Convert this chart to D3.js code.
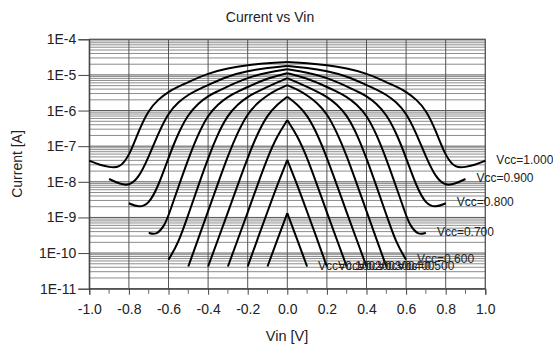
<!DOCTYPE html>
<html>
<head>
<meta charset="utf-8">
<script src="https://cdn.jsdelivr.net/npm/d3@7"></script>
<style>
  body { margin: 0; background: #fff; }
  text { font-family: "Liberation Sans", Arial, sans-serif; fill: #222; }
</style>
</head>
<body>
<svg id="chart" width="553" height="347"></svg>
<script>
// Vin [V] / Current [A] per Vcc curve
const vin1000 = [-1.0, -0.95, -0.9, -0.85, -0.8, -0.75, -0.7, -0.65, -0.6, -0.55, -0.5, -0.4, -0.3, -0.2, -0.1, 0, 0.1, 0.2, 0.3, 0.4, 0.5, 0.55, 0.6, 0.65, 0.7, 0.75, 0.8, 0.85, 0.9, 0.95, 1.0];
const cur1000 = [3.9e-8, 3.0e-8, 2.6e-8, 2.4e-8, 5.0e-8, 2.8e-7, 1.05e-6, 2.1e-6, 3.4e-6, 4.7e-6, 6.3e-6, 1.12e-5, 1.55e-5, 1.9e-5, 2.15e-5, 2.3e-5, 2.15e-5, 1.9e-5, 1.55e-5, 1.12e-5, 6.3e-6, 4.7e-6, 3.4e-6, 2.1e-6, 1.05e-6, 2.8e-7, 5.0e-8, 2.4e-8, 2.6e-8, 3.0e-8, 3.9e-8];

const vin900 = [-0.9, -0.85, -0.8, -0.75, -0.7, -0.65, -0.6, -0.55, -0.5, -0.45, -0.4, -0.3, -0.2, -0.1, 0, 0.1, 0.2, 0.3, 0.4, 0.45, 0.5, 0.55, 0.6, 0.65, 0.7, 0.75, 0.8, 0.85, 0.9];
const cur900 = [1.2e-8, 8.9e-9, 7.6e-9, 1.3e-8, 5.0e-8, 2.4e-7, 8.7e-7, 1.74e-6, 2.8e-6, 3.9e-6, 5.2e-6, 9.3e-6, 1.29e-5, 1.58e-5, 1.78e-5, 1.58e-5, 1.29e-5, 9.3e-6, 5.2e-6, 3.9e-6, 2.8e-6, 1.74e-6, 8.7e-7, 2.4e-7, 5.0e-8, 1.3e-8, 7.6e-9, 8.9e-9, 1.2e-8];

const vin800 = [-0.8, -0.75, -0.7, -0.65, -0.6, -0.55, -0.5, -0.45, -0.4, -0.35, -0.3, -0.2, -0.1, 0, 0.1, 0.2, 0.3, 0.35, 0.4, 0.45, 0.5, 0.55, 0.6, 0.65, 0.7, 0.75, 0.8];
const cur800 = [2.5e-9, 1.9e-9, 2.3e-9, 7.9e-9, 4.8e-8, 2.4e-7, 7.9e-7, 1.58e-6, 2.6e-6, 3.5e-6, 4.8e-6, 8.5e-6, 1.17e-5, 1.45e-5, 1.17e-5, 8.5e-6, 4.8e-6, 3.5e-6, 2.6e-6, 1.58e-6, 7.9e-7, 2.4e-7, 4.8e-8, 7.9e-9, 2.3e-9, 1.9e-9, 2.5e-9];

const vin700 = [-0.7, -0.66, -0.62, -0.6, -0.55, -0.5, -0.45, -0.4, -0.35, -0.3, -0.25, -0.2, -0.1, 0, 0.1, 0.2, 0.25, 0.3, 0.35, 0.4, 0.45, 0.5, 0.55, 0.6, 0.62, 0.66, 0.7];
const cur700 = [3.7e-10, 3.2e-10, 6.0e-10, 1.12e-9, 7.2e-9, 4.4e-8, 2.2e-7, 7.6e-7, 1.51e-6, 2.45e-6, 3.4e-6, 4.6e-6, 8.1e-6, 1.12e-5, 8.1e-6, 4.6e-6, 3.4e-6, 2.45e-6, 1.51e-6, 7.6e-7, 2.2e-7, 4.4e-8, 7.2e-9, 1.12e-9, 6.0e-10, 3.2e-10, 3.7e-10];

const vin600 = [-0.6, -0.55, -0.5, -0.45, -0.4, -0.35, -0.3, -0.25, -0.2, -0.15, -0.1, -0.05, 0, 0.05, 0.1, 0.15, 0.2, 0.25, 0.3, 0.35, 0.4, 0.45, 0.5, 0.55, 0.6];
const cur600 = [6.5e-11, 1.9e-10, 1.2e-9, 7.6e-9, 4.6e-8, 2.3e-7, 7.6e-7, 1.51e-6, 2.45e-6, 3.4e-6, 4.6e-6, 6.2e-6, 8.1e-6, 6.2e-6, 4.6e-6, 3.4e-6, 2.45e-6, 1.51e-6, 7.6e-7, 2.3e-7, 4.6e-8, 7.6e-9, 1.2e-9, 1.9e-10, 6.5e-11];

const vin500 = [-0.5, -0.45, -0.4, -0.35, -0.3, -0.25, -0.2, -0.15, -0.1, -0.05, 0, 0.05, 0.1, 0.15, 0.2, 0.25, 0.3, 0.35, 0.4, 0.45, 0.5];
const cur500 = [4.2e-11, 2.5e-10, 1.5e-9, 9.1e-9, 5.4e-8, 2.5e-7, 8.3e-7, 1.66e-6, 2.7e-6, 3.9e-6, 5.2e-6, 3.9e-6, 2.7e-6, 1.66e-6, 8.3e-7, 2.5e-7, 5.4e-8, 9.1e-9, 1.5e-9, 2.5e-10, 4.2e-11];

const vin400 = [-0.4, -0.35, -0.3, -0.25, -0.2, -0.15, -0.1, -0.05, 0, 0.05, 0.1, 0.15, 0.2, 0.25, 0.3, 0.35, 0.4];
const cur400 = [4.2e-11, 2.4e-10, 1.38e-9, 8.3e-9, 4.8e-8, 2.3e-7, 7.6e-7, 1.51e-6, 2.45e-6, 1.51e-6, 7.6e-7, 2.3e-7, 4.8e-8, 8.3e-9, 1.38e-9, 2.4e-10, 4.2e-11];

const vin300 = [-0.3, -0.25, -0.2, -0.15, -0.1, -0.05, 0, 0.05, 0.1, 0.15, 0.2, 0.25, 0.3];
const cur300 = [4.2e-11, 2.4e-10, 1.38e-9, 8.3e-9, 4.8e-8, 2.0e-7, 5.4e-7, 2.0e-7, 4.8e-8, 8.3e-9, 1.38e-9, 2.4e-10, 4.2e-11];

const vin200 = [-0.2, -0.15, -0.1, -0.05, 0, 0.05, 0.1, 0.15, 0.2];
const cur200 = [4.2e-11, 2.5e-10, 1.45e-9, 8.3e-9, 4.1e-8, 8.3e-9, 1.45e-9, 2.5e-10, 4.2e-11];

const vin100 = [-0.1, -0.05, 0, 0.05, 0.1];
const cur100 = [4.2e-11, 2.4e-10, 1.32e-9, 2.4e-10, 4.2e-11];

const vccLabels = ['Vcc=1.000', 'Vcc=0.900', 'Vcc=0.800', 'Vcc=0.700', 'Vcc=0.600', 'Vcc=0.500', 'Vcc=0.400', 'Vcc=0.300', 'Vcc=0.200', 'Vcc=0.100'];
const vinSets = [vin1000, vin900, vin800, vin700, vin600, vin500, vin400, vin300, vin200, vin100];
const curSets = [cur1000, cur900, cur800, cur700, cur600, cur500, cur400, cur300, cur200, cur100];

// axis ticks
const xMajor = [-1.0, -0.8, -0.6, -0.4, -0.2, 0.0, 0.2, 0.4, 0.6, 0.8, 1.0];
const xMinor = [-0.9, -0.7, -0.5, -0.3, -0.1, 0.1, 0.3, 0.5, 0.7, 0.9];
const decades = [-11, -10, -9, -8, -7, -6, -5, -4];
const minorSteps = [2, 3, 4, 5, 6, 7, 8, 9];

const series = vccLabels.map((label, i) => ({
  label,
  points: vinSets[i].map((v, j) => ({ vin: v, current: curSets[i][j] }))
}));

const svg = d3.select('#chart');

const x = d3.scaleLinear().domain([-1, 1]).range([89.3, 485.3]);
const y = d3.scaleLog().domain([1e-11, 1e-4]).range([288.7, 39.3]);

const [x0, x1] = x.range();
const [yBottom, yTop] = y.range();

// Horizontal grid (minor then decade lines)
const minorValues = [];
decades.slice(0, -1).forEach(e => minorSteps.forEach(k => minorValues.push(k * Math.pow(10, e))));
const decadeValues = decades.map(e => Math.pow(10, e));

const grid = svg.append('g');
grid.selectAll('line.hminor')
  .data(minorValues)
  .join('line')
  .attr('class', 'hminor')
  .attr('x1', x0).attr('x2', x1)
  .attr('y1', d => y(d)).attr('y2', d => y(d))
  .attr('stroke', '#8c8c8c')
  .attr('stroke-width', 1);

grid.selectAll('line.hmajor')
  .data(decadeValues)
  .join('line')
  .attr('class', 'hmajor')
  .attr('x1', x0).attr('x2', x1)
  .attr('y1', d => y(d)).attr('y2', d => y(d))
  .attr('stroke', '#555')
  .attr('stroke-width', 1);

grid.selectAll('line.vmajor')
  .data(xMajor)
  .join('line')
  .attr('class', 'vmajor')
  .attr('x1', d => x(d)).attr('x2', d => x(d))
  .attr('y1', yTop).attr('y2', yBottom)
  .attr('stroke', '#555')
  .attr('stroke-width', 1);

// frame
svg.append('rect')
  .attr('x', x0).attr('y', yTop)
  .attr('width', x1 - x0).attr('height', yBottom - yTop)
  .attr('fill', 'none')
  .attr('stroke', '#555');

// X axis
const xAxis = svg.append('g')
  .attr('transform', `translate(0,${yBottom})`)
  .call(d3.axisBottom(x).tickValues(xMajor).tickSize(6).tickPadding(9.5).tickFormat(d => d.toFixed(1)));
xAxis.select('.domain').attr('stroke', '#444');
xAxis.selectAll('.tick line').attr('stroke', '#444');
xAxis.selectAll('text').style('font-size', '14px').attr('fill', '#222');

svg.append('g')
  .selectAll('line')
  .data(xMinor)
  .join('line')
  .attr('x1', d => x(d)).attr('x2', d => x(d))
  .attr('y1', yBottom).attr('y2', yBottom + 5)
  .attr('stroke', '#666');

// Y axis
const yAxis = svg.append('g')
  .attr('transform', `translate(${x0},0)`)
  .call(d3.axisLeft(y).tickValues(decadeValues).tickSize(11).tickPadding(2)
    .tickFormat(d => '1E' + Math.round(Math.log10(d))));
yAxis.select('.domain').attr('stroke', '#444');
yAxis.selectAll('.tick line').attr('stroke', '#444');
yAxis.selectAll('text').style('font-size', '14px').attr('fill', '#222');

// curves, each drawn as two halves so the peak at Vin=0 stays sharp
const line = d3.line()
  .x(d => x(d.vin))
  .y(d => y(d.current))
  .curve(d3.curveBasis);

const curves = svg.append('g');
series.forEach(s => {
  const left = s.points.filter(p => p.vin <= 0);
  const right = s.points.filter(p => p.vin >= 0);
  [left, right].forEach(half => {
    curves.append('path')
      .datum(half)
      .attr('d', line)
      .attr('fill', 'none')
      .attr('stroke', '#000')
      .attr('stroke-width', 2)
      .attr('stroke-linejoin', 'round');
  });
});

// labels at the right end of each curve
svg.append('g')
  .selectAll('text')
  .data(series)
  .join('text')
  .attr('x', d => x(d.points[d.points.length - 1].vin) + 11)
  .attr('y', d => y(d.points[d.points.length - 1].current) - 1)
  .attr('dy', '0.35em')
  .style('font-size', '12px')
  .text(d => d.label);

// titles
svg.append('text')
  .attr('x', 270).attr('y', 21.5)
  .attr('text-anchor', 'middle')
  .style('font-size', '14px')
  .text('Current vs Vin');

svg.append('text')
  .attr('x', 287).attr('y', 341)
  .attr('text-anchor', 'middle')
  .style('font-size', '14.5px')
  .text('Vin [V]');

svg.append('text')
  .attr('transform', 'translate(22,164) rotate(-90)')
  .attr('text-anchor', 'middle')
  .style('font-size', '14px')
  .text('Current [A]');
</script>
</body>
</html>
